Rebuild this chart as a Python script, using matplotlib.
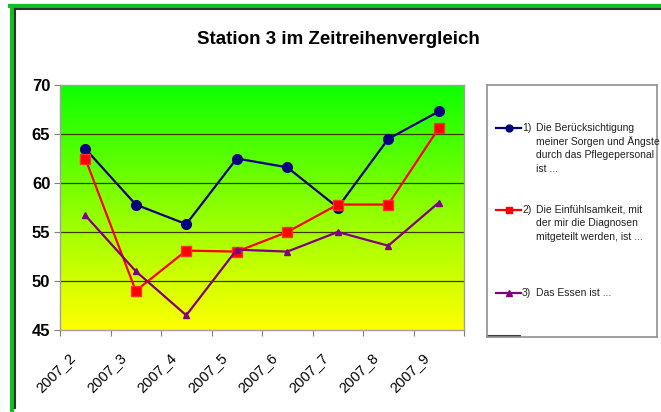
import numpy as np
import matplotlib.pyplot as plt
from matplotlib.colors import LinearSegmentedColormap
from matplotlib.lines import Line2D
from matplotlib.transforms import ScaledTranslation

plt.rcParams['font.family'] = ['Liberation Sans', 'DejaVu Sans']

months = ["2007_2", "2007_3", "2007_4", "2007_5", "2007_6", "2007_7", "2007_8", "2007_9"]
sorgen = [63.5, 57.8, 55.8, 62.5, 61.6, 57.5, 64.5, 67.3]
einfuehlsamkeit = [62.5, 49.0, 53.1, 53.0, 55.0, 57.8, 57.8, 65.6]
essen = [56.7, 51.0, 46.5, 53.2, 53.0, 55.0, 53.6, 58.0]

labels = [
    ("1)", ["Die Berücksichtigung", "meiner Sorgen und Ängste", "durch das Pflegepersonal", "ist ..."]),
    ("2)", ["Die Einfühlsamkeit, mit", "der mir die Diagnosen", "mitgeteilt werden, ist ..."]),
    ("3)", ["Das Essen ist ..."]),
]

fig = plt.figure(figsize=(6.61, 4.12), dpi=100)

# green outer frame + dark inner edge (top / left)
fig.add_artist(Line2D([12 / 661, 12 / 661], [0, 1 - 6 / 412], color="#10c020", lw=3,
                      transform=fig.transFigure))
fig.add_artist(Line2D([10 / 661, 1], [1 - 6 / 412, 1 - 6 / 412], color="#10c020", lw=3,
                      transform=fig.transFigure))
fig.add_artist(Line2D([15 / 661, 15 / 661], [0.01, 1 - 9 / 412], color="#303030", lw=1.5,
                      transform=fig.transFigure))
fig.add_artist(Line2D([15 / 661, 1], [1 - 9 / 412, 1 - 9 / 412], color="#303030", lw=1.5,
                      transform=fig.transFigure))

ax = fig.add_axes([60 / 661, 82 / 412, 404 / 661, 245 / 412])

# green-to-yellow background gradient
cmap = LinearSegmentedColormap.from_list("gy", [(0.05, 1.0, 0.0), (0.55, 1.0, 0.0), (1.0, 1.0, 0.0)])
grad = np.linspace(0, 1, 256).reshape(-1, 1)
ax.imshow(grad, cmap=cmap, aspect="auto", extent=[0, 1, 0, 1],
          transform=ax.transAxes, zorder=0)

x = np.arange(len(months))
ax.plot(x, sorgen, color="#000080", lw=1.6, marker="o", ms=7, zorder=3)
ax.plot(x, einfuehlsamkeit, color="#ff0000", lw=1.6, marker="s", ms=6.5,
        mec="#ff3030", zorder=3)
ax.plot(x, essen, color="#800080", lw=1.6, marker="^", ms=5, zorder=3)

ax.set_xlim(-0.5, len(months) - 0.5)
ax.set_ylim(45, 70)
ax.set_yticks([45, 50, 55, 60, 65, 70])
ax.set_yticklabels(["45", "50", "55", "60", "65", "70"], fontsize=12, fontweight="bold")
for yv in [50, 55, 60, 65]:
    ax.axhline(yv, color="#3a3a00", lw=0.9, zorder=1)

ax.set_xticks(np.arange(len(months) + 1) - 0.5, minor=False)
ax.set_xticklabels([])
ax.set_xticks(x, minor=True)
ax.set_xticklabels(months, minor=True, rotation=45, ha="right", va="top", fontsize=10.5)
ax.tick_params(axis="x", which="minor", length=0, pad=15)
ax.tick_params(axis="x", which="major", length=4, color="#808080")
ax.tick_params(axis="y", length=4, color="#808080", pad=3)
shift = ScaledTranslation(-7 / 100, 0, fig.dpi_scale_trans)
for lbl in ax.get_xticklabels(minor=True):
    lbl.set_transform(lbl.get_transform() + shift)
for s in ax.spines.values():
    s.set_color("#a0a0a0")
    s.set_linewidth(1)

fig.text(338 / 661, 1 - 40 / 412, "Station 3 im Zeitreihenvergleich",
         ha="center", va="center", fontsize=13.5, fontweight="bold")

# legend box
lax = fig.add_axes([487 / 661, 75 / 412, 170 / 661, 252 / 412])
lax.set_xlim(487, 657)
lax.set_ylim(337, 85)
lax.set_xticks([])
lax.set_yticks([])
for s in lax.spines.values():
    s.set_color("#909090")
    s.set_linewidth(1.2)
lax.plot([488, 520], [336, 336], color="#404040", lw=1.5, clip_on=False)

styles = [
    dict(color="#000080", marker="o", ms=5),
    dict(color="#ff0000", marker="s", ms=5),
    dict(color="#800080", marker="^", ms=4),
]
ys = [128, 210, 293]
for (num, lines), st, yv in zip(labels, styles, ys):
    lax.plot([496, 508.5, 521], [yv, yv, yv], lw=1.6, markevery=[1], **st)
    lax.text(522, yv, num, fontsize=7.5, va="center", ha="left", color="#202020")
    for i, line in enumerate(lines):
        lax.text(536, yv + i * 13.5, line, fontsize=7.5, va="center", ha="left",
                 color="#202020")

fig.savefig("out.png", dpi=100)
